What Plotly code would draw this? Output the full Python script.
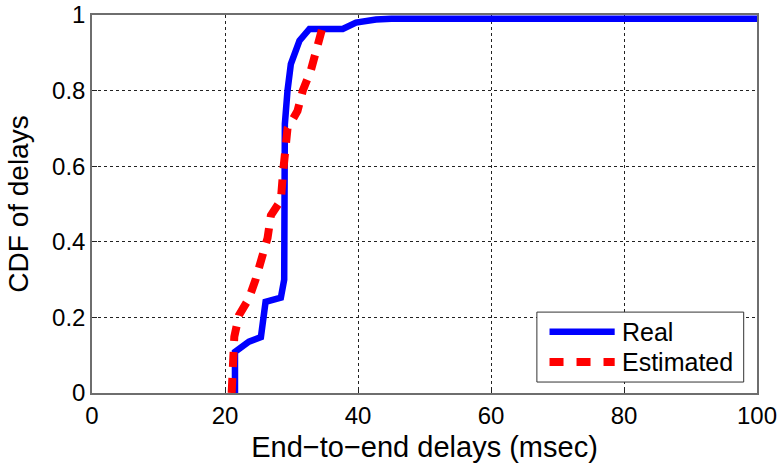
import plotly.graph_objects as go

real_x = [21.5, 21.5, 23.6, 25.4, 26.1, 28.4, 28.9, 29.0, 29.4, 29.9, 31.2, 32.7, 37.7, 39.7, 42.7, 45.0, 100.0]
real_y = [0.0, 0.109, 0.136, 0.148, 0.241, 0.252, 0.30, 0.711, 0.80, 0.87, 0.932, 0.963, 0.963, 0.98, 0.988, 0.99, 0.99]

est_x = [21.0, 21.4, 22.1, 23.6, 24.6, 25.6, 26.4, 26.9, 28.4, 28.7, 29.1, 29.4, 30.9, 31.7, 32.9, 33.7, 34.6]
est_y = [0.0, 0.149, 0.206, 0.25, 0.30, 0.356, 0.41, 0.47, 0.51, 0.578, 0.64, 0.70, 0.746, 0.80, 0.853, 0.906, 0.963]

series_names = ["Real", "Estimated"]
x_ticks = [0, 20, 40, 60, 80, 100]
y_ticks = [0, 0.2, 0.4, 0.6, 0.8, 1]
y_tick_labels = ["0", "0.2", "0.4", "0.6", "0.8", "1"]

BLUE = "#0000ff"
RED = "#ff0000"
font = "Liberation Sans, Arial, sans-serif"
red_dash = "15px,11px"

fig = go.Figure()
fig.add_trace(go.Scatter(x=real_x, y=real_y, mode="lines", name=series_names[0],
                         line=dict(color=BLUE, width=6.5), showlegend=False))
fig.add_trace(go.Scatter(x=est_x, y=est_y, mode="lines", name=series_names[1],
                         line=dict(color=RED, width=8, dash=red_dash), showlegend=False))

axis_common = dict(showline=True, linecolor="#6e6e6e", linewidth=1.5, mirror=True,
                   ticks="inside", ticklen=5, tickcolor="#222222",
                   showgrid=True, gridcolor="#222222", griddash="dot", gridwidth=1,
                   zeroline=False, automargin=False,
                   tickfont=dict(family=font, size=24, color="black"))

# manual legend (MATLAB-style box with long line samples)
lx0, lx1, ly0, ly1 = 0.669, 0.980, 0.029, 0.214
shapes = [
    dict(type="rect", xref="paper", yref="paper", x0=lx0, x1=lx1, y0=ly0, y1=ly1,
         line=dict(color="#333333", width=1), fillcolor="white", layer="above"),
    dict(type="line", xref="paper", yref="paper", x0=0.688, x1=0.786, y0=0.162, y1=0.162,
         line=dict(color=BLUE, width=6.5), layer="above"),
    dict(type="line", xref="paper", yref="paper", x0=0.688, x1=0.786, y0=0.082, y1=0.082,
         line=dict(color=RED, width=8, dash="14px,13px"), layer="above"),
]
annotations = [
    dict(xref="paper", yref="paper", x=0.794, y=0.162, text=series_names[0], showarrow=False,
         xanchor="left", yanchor="middle", font=dict(family=font, size=25, color="black")),
    dict(xref="paper", yref="paper", x=0.794, y=0.082, text=series_names[1], showarrow=False,
         xanchor="left", yanchor="middle", font=dict(family=font, size=25, color="black")),
]

fig.update_layout(
    width=778, height=463,
    margin=dict(l=92, r=21, t=15, b=70),
    paper_bgcolor="white", plot_bgcolor="white",
    showlegend=False,
    shapes=shapes, annotations=annotations,
    xaxis=dict(range=[0, 100], tickvals=x_ticks,
               title=dict(text="End\u2212to\u2212end delays (msec)", font=dict(family=font, size=29, color="black")),
               **axis_common),
    yaxis=dict(range=[0, 1], tickvals=y_ticks, ticktext=y_tick_labels,
               title=dict(text="CDF of delays", font=dict(family=font, size=28, color="black")),
               **axis_common),
)
fig.write_html("out.html", config={"displayModeBar": False},
               post_script="document.body.style.margin='0';document.body.style.overflow='hidden';")
